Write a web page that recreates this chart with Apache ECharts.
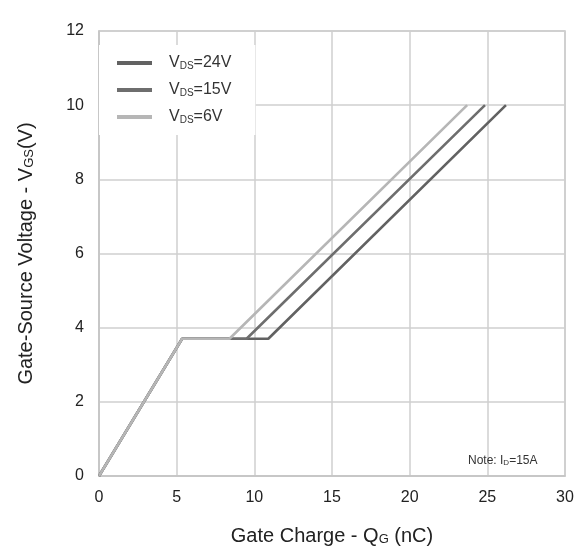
<!DOCTYPE html>
<html>
<head>
<meta charset="utf-8">
<script src="https://cdn.jsdelivr.net/npm/echarts@6/dist/echarts.min.js"></script>
<style>html,body{margin:0;padding:0;background:#fff}#c{width:582px;height:554px}</style>
</head>
<body>
<div id="c"></div>
<script>
// Gate charge QG (nC) and gate-source voltage VGS (V)
const q24 = [0, 5.35, 10.9, 26.2];
const v24 = [0, 3.7, 3.7, 10];
const q15 = [0, 5.35, 9.5, 24.85];
const v15 = [0, 3.7, 3.7, 10];
const q6 = [0, 5.35, 8.4, 23.7];
const v6 = [0, 3.7, 3.7, 10];
const seriesNames = ['VDS=24V', 'VDS=15V', 'VDS=6V'];
const xTicks = [0, 5, 10, 15, 20, 25, 30];
const yTicks = [0, 2, 4, 6, 8, 10, 12];

const pairs = (q, v) => q.map((x, i) => [x, v[i]]);
const font = 'Liberation Sans, Arial, sans-serif';
const chart = echarts.init(document.getElementById('c'));
const mk = (name, q, v, color) => ({
  name, type: 'line', data: pairs(q, v), symbol: 'none',
  lineStyle: { color, width: 2.6 }, itemStyle: { color },
  animation: false
});
const titleRich = {
  a: { fontSize: 20, fontFamily: font, color: '#222' },
  b: { fontSize: 13, fontFamily: font, color: '#222', verticalAlign: 'bottom', padding: [7, 0, 0, 0] }
};
chart.setOption({
  animation: false,
  grid: { left: 99, right: 17, top: 31, bottom: 78, show: true, borderColor: '#c4c4c4', borderWidth: 1.5 },
  legend: {
    orient: 'vertical', left: 99, top: 45,
    padding: [10, 24, 10, 18], backgroundColor: '#fff',
    icon: 'rect', itemWidth: 35, itemHeight: 4, itemGap: 11,
    data: seriesNames,
    formatter: n => '{a|V}{b|DS}{a|' + n.slice(3) + '}',
    textStyle: {
      fontFamily: font, color: '#333', padding: [0, 0, 0, 12],
      rich: { a: { fontSize: 16, fontFamily: font, color: '#333' }, b: { fontSize: 10, fontFamily: font, color: '#333', verticalAlign: 'bottom', padding: [6, 0, 0, 0] } }
    }
  },
  xAxis: {
    type: 'value', min: 0, max: 30, interval: 5,
    name: '{a|Gate Charge - Q}{b|G}{a| (nC)}', nameLocation: 'middle', nameGap: 50,
    nameTextStyle: { rich: titleRich },
    axisLine: { lineStyle: { color: '#c4c4c4', width: 1.5 } },
    axisTick: { show: false },
    axisLabel: { fontSize: 16, fontFamily: font, color: '#222', margin: 14, formatter: v => xTicks.includes(v) ? String(v) : '' },
    splitLine: { lineStyle: { color: '#cfcfcf', width: 1.5 } }
  },
  yAxis: {
    type: 'value', min: 0, max: 12, interval: 2,
    name: '{a|Gate-Source Voltage - V}{b|GS}{a|(V)}', nameLocation: 'middle', nameGap: 63,
    nameTextStyle: { rich: titleRich },
    axisLine: { lineStyle: { color: '#c4c4c4', width: 1.5 } },
    axisTick: { show: false },
    axisLabel: { fontSize: 16, fontFamily: font, color: '#222', margin: 15, formatter: v => yTicks.includes(v) ? String(v) : '' },
    splitLine: { lineStyle: { color: '#cfcfcf', width: 1.5 } }
  },
  graphic: [{
    type: 'text', left: 468, top: 455, z: 10,
    style: { rich: { a: { fontSize: 12, fontFamily: font, fill: '#333' }, b: { fontSize: 8, fontFamily: font, fill: '#333', verticalAlign: 'bottom', padding: [4, 0, 0, 0] } }, text: '{a|Note: I}{b|D}{a|=15A}' }
  }],
  series: [
    mk(seriesNames[0], q24, v24, '#626262'),
    mk(seriesNames[1], q15, v15, '#6e6e6e'),
    mk(seriesNames[2], q6, v6, '#b6b6b6')
  ]
});
</script>
</body>
</html>
